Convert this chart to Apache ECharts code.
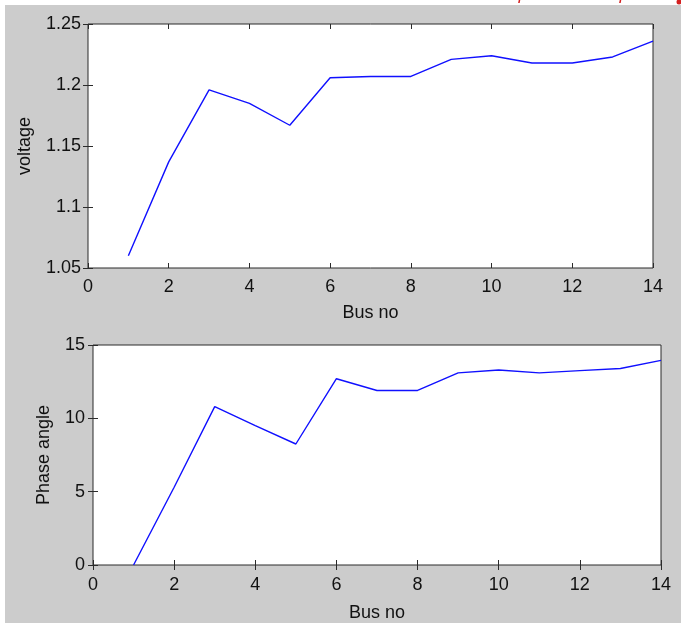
<!DOCTYPE html>
<html>
<head>
<meta charset="utf-8">
<script src="https://cdn.jsdelivr.net/npm/echarts@6/dist/echarts.min.js"></script>
<style>
  html, body { margin: 0; padding: 0; background: #fff; }
  #chart { width: 681px; height: 623px; }
</style>
</head>
<body>
<div id="chart"></div>
<script>
// bus voltage profile + phase angle (two stacked MATLAB-style plots)
const busNo = [1, 2, 3, 4, 5, 6, 7, 8, 9, 10, 11, 12, 13, 14];
const voltage = [1.06, 1.137, 1.196, 1.185, 1.167, 1.206, 1.207, 1.207, 1.221, 1.224, 1.218, 1.218, 1.223, 1.236];
const phaseAngle = [0, 5.3, 10.8, 9.5, 8.25, 12.7, 11.9, 11.9, 13.1, 13.3, 13.1, 13.25, 13.4, 13.95];
const busTicks = { min: 0, max: 14, interval: 2 };

const FONT = 'Liberation Sans';
const FRAME = '#2b2b2b';
const label = { color: '#111', fontSize: 18, fontFamily: FONT };

function pairs(ys) {
  return busNo.map((x, i) => [x, ys[i]]);
}

function xAxes(gridIndex, margin, gap) {
  const base = {
    type: 'value', gridIndex, ...busTicks,
    axisLine: { show: false },
    axisTick: { show: true, inside: true, length: 5, lineStyle: { color: FRAME } },
    splitLine: { show: false },
  };
  return [
    Object.assign({}, base, {
      position: 'bottom',
      axisLabel: { ...label, margin },
      name: 'Bus no', nameLocation: 'middle', nameGap: gap,
      nameTextStyle: { ...label },
    }),
    Object.assign({}, base, { position: 'top', axisLabel: { show: false } }),
  ];
}

function yAxes(gridIndex, min, max, interval, name, gap, margin) {
  const base = {
    type: 'value', gridIndex, min, max, interval,
    axisLine: { show: false },
    axisTick: { show: true, inside: true, length: 5, lineStyle: { color: FRAME } },
    splitLine: { show: false },
  };
  return [
    Object.assign({}, base, {
      position: 'left',
      axisLabel: { ...label, margin, formatter: (v) => String(+v.toFixed(2)) },
      name, nameLocation: 'middle', nameGap: gap, nameRotate: 90,
      nameTextStyle: { ...label },
    }),
    Object.assign({}, base, { position: 'right', axisLabel: { show: false } }),
  ];
}

const chart = echarts.init(document.getElementById('chart'), null, { renderer: 'canvas' });
chart.setOption({
  backgroundColor: '#cccccc',
  animation: false,
  grid: [
    { left: 88, top: 24, width: 565, height: 244, show: true, backgroundColor: '#fff', borderColor: FRAME, borderWidth: 1 },
    { left: 93, top: 345, width: 568, height: 228, show: true, backgroundColor: '#fff', borderColor: FRAME, borderWidth: 1 },
  ],
  xAxis: [...xAxes(0, 10, 36), ...xAxes(1, 11, 39)],
  yAxis: [
    ...yAxes(0, 1.05, 1.25, 0.05, 'voltage', 54, 7),
    ...yAxes(1, 0, 15, 5, 'Phase angle', 40, 8),
  ],
  series: [
    {
      type: 'line', xAxisIndex: 0, yAxisIndex: 0, data: pairs(voltage),
      showSymbol: false, lineStyle: { color: '#1010ff', width: 1.4 },
    },
    {
      type: 'line', xAxisIndex: 2, yAxisIndex: 2, data: pairs(phaseAngle),
      showSymbol: false, lineStyle: { color: '#1010ff', width: 1.4 },
    },
  ],
  graphic: [
    // white margin of the cropped screenshot + bits of red text cut off at the top
    { type: 'rect', shape: { x: 0, y: 0, width: 681, height: 5 }, style: { fill: '#fff' } },
    { type: 'rect', shape: { x: 0, y: 0, width: 5, height: 623 }, style: { fill: '#fff' } },
    { type: 'text', x: 518, y: -7, style: { text: '/', fill: '#d42020', font: 'bold 13px ' + FONT } },
    { type: 'text', x: 619, y: -7, style: { text: '/', fill: '#d42020', font: 'bold 13px ' + FONT } },
    { type: 'circle', shape: { cx: 679, cy: 2, r: 2.5 }, style: { fill: '#d42020' } },
  ],
});
</script>
</body>
</html>
